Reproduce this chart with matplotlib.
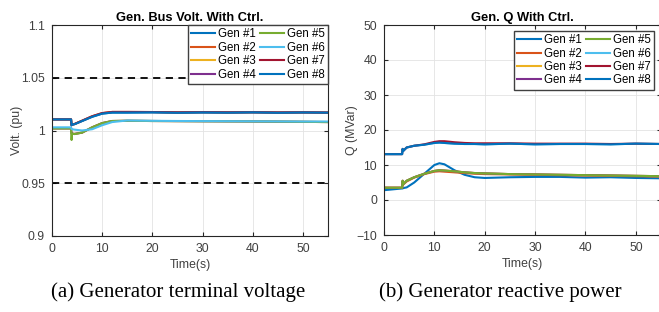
import matplotlib
matplotlib.use("Agg")
import matplotlib.pyplot as plt

plt.rcParams["font.family"] = ["Liberation Sans", "DejaVu Sans"]

labels = ["Gen #1", "Gen #2", "Gen #3", "Gen #4", "Gen #5", "Gen #6", "Gen #7", "Gen #8"]
colors = ["#0072BD", "#D95319", "#EDB120", "#7E2F8E", "#77AC30", "#4DBEEE", "#A2142F", "#0072BD"]

# voltage (pu)
t_v = [0, 3.8, 3.9, 4.0, 4.5, 6, 8, 10, 12, 15, 20, 25, 30, 35, 40, 45, 50, 55]
v_hi = [1.0105, 1.0105, 1.0050, 1.0055, 1.0060, 1.0090, 1.0130, 1.0160, 1.0170, 1.0170,
        1.0172, 1.0168, 1.0171, 1.0169, 1.0172, 1.0168, 1.0171, 1.0169]
v_hi2 = [1.0105, 1.0105, 1.0050, 1.0055, 1.0062, 1.0093, 1.0135, 1.0165, 1.0176, 1.0176,
         1.0175, 1.0172, 1.0174, 1.0172, 1.0173, 1.0171, 1.0172, 1.0170]
v_lo = [1.0020, 1.0020, 0.9970, 0.9970, 0.9968, 0.9980, 1.0030, 1.0070, 1.0090, 1.0092,
        1.0090, 1.0089, 1.0088, 1.0087, 1.0086, 1.0084, 1.0082, 1.0080]
v_g5 = [1.0020, 1.0020, 0.9910, 0.9970, 0.9966, 0.9980, 1.0030, 1.0070, 1.0090, 1.0092,
        1.0090, 1.0089, 1.0088, 1.0087, 1.0086, 1.0084, 1.0082, 1.0080]
v_g6 = [1.0030, 1.0030, 1.0015, 1.0012, 1.0008, 1.0000, 1.0012, 1.0050, 1.0080, 1.0095,
        1.0092, 1.0090, 1.0089, 1.0088, 1.0087, 1.0086, 1.0085, 1.0085]
volt = [v_hi, v_hi2, v_lo, v_lo, v_g5, v_g6, v_hi2, v_hi]

# reactive power (MVar)
t_q = [0, 3.6, 3.7, 3.8, 4.5, 6, 8, 10, 11, 12, 14, 16, 18, 20, 25, 30, 35, 40, 45, 50, 55]
q_g1 = [2.8, 3.3, 3.3, 3.4, 3.6, 5.0, 7.5, 10.0, 10.5, 10.2, 8.5, 7.2, 6.5, 6.3,
        6.5, 6.6, 6.6, 6.4, 6.5, 6.3, 6.2]
q_g2 = [3.5, 3.5, 4.5, 4.4, 5.3, 6.4, 7.4, 8.1, 8.2, 8.1, 7.9, 7.7, 7.5, 7.4,
        7.3, 7.2, 7.1, 7.0, 6.9, 6.8, 6.7]
q_lo = [3.5, 3.5, 5.5, 4.5, 5.5, 6.5, 7.5, 8.3, 8.5, 8.4, 8.2, 7.9, 7.7, 7.6,
        7.4, 7.3, 7.2, 7.1, 7.0, 6.9, 6.8]
q_hi = [13.1, 13.1, 14.6, 14.0, 15.0, 15.5, 15.8, 16.3, 16.4, 16.3, 16.1, 16.0, 16.0, 15.9,
        16.1, 15.9, 16.0, 16.0, 15.9, 16.1, 16.0]
q_g7 = [13.1, 13.1, 14.6, 14.0, 15.0, 15.5, 15.9, 16.6, 16.8, 16.8, 16.5, 16.3, 16.2, 16.2,
        16.2, 16.1, 16.1, 16.1, 16.0, 16.1, 16.0]
q_vals = [q_g1, q_g2, q_lo, q_lo, q_lo, q_hi, q_g7, q_hi]

fig = plt.figure(figsize=(6.59, 3.12), dpi=100)
ax1 = fig.add_axes([52 / 659, 76 / 312, 276 / 659, 211 / 312])
ax2 = fig.add_axes([384 / 659, 77 / 312, 277 / 659, 210 / 312])

FS = 8.8


def style(ax):
    ax.grid(True, color="#e3e3e3", linewidth=0.6)
    ax.set_axisbelow(True)
    ax.tick_params(direction="in", length=3, labelsize=FS, colors="#262626",
                   labelcolor="#404040", top=True, right=True, pad=5)
    for s in ax.spines.values():
        s.set_color("#262626")
        s.set_linewidth(0.8)
    ax.set_xlabel("Time(s)", fontsize=FS, color="#404040", labelpad=3)


def legend(ax, anchor):
    ax.legend(ncol=2, loc="upper right", bbox_to_anchor=anchor, fontsize=8.3,
              fancybox=False, edgecolor="#404040", framealpha=1, handlelength=2.1,
              handletextpad=0.2, columnspacing=0.4, borderpad=0.3, labelspacing=0.12,
              borderaxespad=0)


for lab, col, v in zip(labels, colors, volt):
    ax1.plot(t_v, v, color=col, lw=1.5, label=lab)
ax1.axhline(1.05, color="black", lw=1.3, ls=(0, (4, 3)))
ax1.axhline(0.95, color="black", lw=1.3, ls=(0, (4, 3)))
ax1.set_xlim(0, 55)
ax1.set_ylim(0.9, 1.1)
ax1.set_yticks([0.9, 0.95, 1.0, 1.05, 1.1])
ax1.set_yticklabels(["0.9", "0.95", "1", "1.05", "1.1"])
ax1.set_xticks([0, 10, 20, 30, 40, 50])
ax1.set_ylabel("Volt. (pu)", fontsize=FS, color="#404040", labelpad=-1.5)
ax1.set_title("Gen. Bus Volt. With Ctrl.", fontsize=9.3, fontweight="bold", pad=3)
style(ax1)
legend(ax1, (1.0, 1.0))

for lab, col, q in zip(labels, colors, q_vals):
    ax2.plot(t_q, q, color=col, lw=1.5, label=lab)
ax2.set_xlim(0, 55)
ax2.set_ylim(-10, 50)
ax2.set_yticks([-10, 0, 10, 20, 30, 40, 50])
ax2.set_xticks([0, 10, 20, 30, 40, 50])
ax2.set_ylabel("Q (MVar)", fontsize=FS, color="#404040", labelpad=-1.5)
ax2.set_title("Gen. Q With Ctrl.", fontsize=9.3, fontweight="bold", pad=3)
style(ax2)
legend(ax2, (0.975, 0.972))

fig.text(178 / 659, 20 / 312, "(a) Generator terminal voltage", ha="center", va="center",
         fontsize=15, family="Liberation Serif")
fig.text(500 / 659, 20 / 312, "(b) Generator reactive power", ha="center", va="center",
         fontsize=15, family="Liberation Serif")

fig.savefig("out.png", dpi=100)
